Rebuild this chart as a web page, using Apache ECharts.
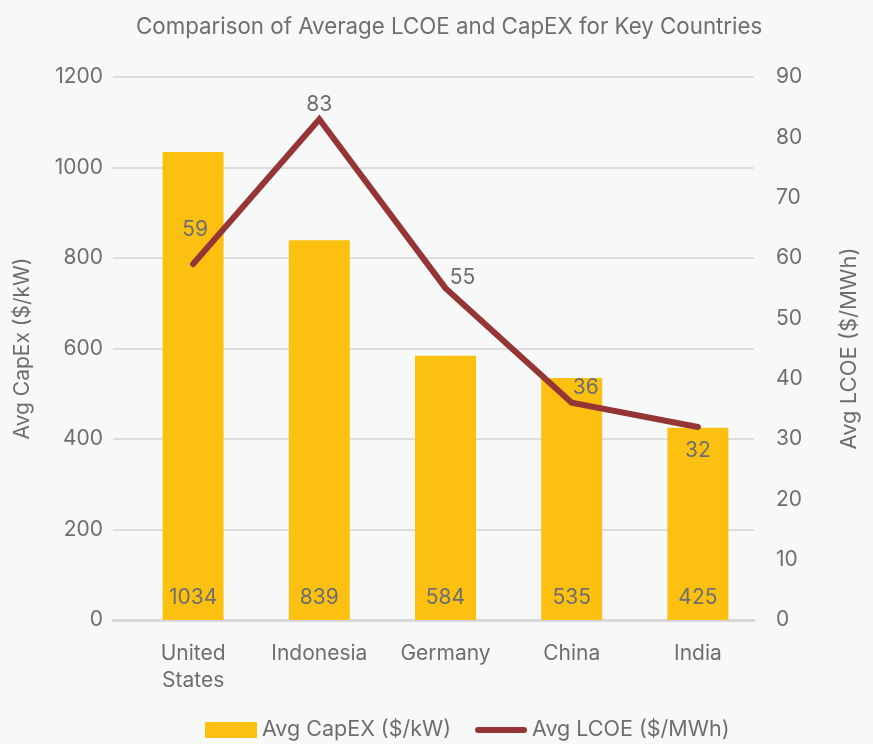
<!DOCTYPE html>
<html><head><meta charset="utf-8">
<script src="https://cdn.jsdelivr.net/npm/echarts@6/dist/echarts.min.js"></script>
<style>html,body{margin:0;padding:0;background:#f7f8f8}#c{width:873px;height:744px}</style>
</head><body><div id="c"></div>
<script>
const categories = ['United\nStates', 'Indonesia', 'Germany', 'China', 'India'];
const capex = [1034, 839, 584, 535, 425];
const lcoe = [59, 83, 55, 36, 32];
const leftTicks = {min: 0, max: 1200, interval: 200};
const rightTicks = {min: 0, max: 90, interval: 10};

const txt = '#6e6e70';
const font = 'Inter';
const lcoeLabelPos = [
  {position: 'top', offset: [2, -16]},
  {position: 'top', offset: [0, 4]},
  {position: 'top', offset: [17, 8]},
  {position: 'top', offset: [14, 3]},
  {position: 'bottom', offset: [0, 5]}
];

const chart = echarts.init(document.getElementById('c'));
chart.setOption({
  backgroundColor: '#f7f8f8',
  textStyle: {fontFamily: font},
  title: {text: 'Comparison of Average LCOE and CapEX for Key Countries', left: 131, top: 11,
    textStyle: {color: txt, fontSize: 22.3, fontWeight: 'normal', fontFamily: font}},
  legend: {top: 714, left: 200, itemWidth: 52, itemHeight: 16, itemGap: 24,
    textStyle: {color: txt, fontSize: 21.5, fontFamily: font},
    data: [{name: 'Avg CapEX ($/kW)', icon: 'rect'},
           {name: 'Avg LCOE ($/MWh)', icon: 'path://M0,0 L0.01,0 L0,0.01 Z M0,16 L0.01,16 L0,16.01 Z M3,5 L49,5 Q52,5 52,8 Q52,11 49,11 L3,11 Q0,11 0,8 Q0,5 3,5 Z'}]},
  grid: [
    {left: 113, right: 119, top: 77, bottom: 124},
    {left: 130, right: 112, top: 77, bottom: 124}
  ],
  xAxis: [
    {type: 'category', gridIndex: 0, data: categories, axisLabel: {show: false}, axisTick: {show: false},
      axisLine: {show: true, lineStyle: {color: '#d8d8dc', width: 3}}},
    {type: 'category', gridIndex: 1, data: categories, axisTick: {show: false}, axisLine: {show: false},
      axisLabel: {color: txt, fontSize: 21, margin: 20, lineHeight: 27, fontFamily: font, interval: 0}}
  ],
  yAxis: [
    {type: 'value', gridIndex: 0, min: leftTicks.min, max: leftTicks.max, interval: leftTicks.interval,
      name: 'Avg CapEx ($/kW)', nameLocation: 'middle', nameGap: 80, nameRotate: 90,
      nameTextStyle: {color: txt, fontSize: 21, fontFamily: font},
      axisLabel: {color: txt, fontSize: 21, margin: 10, fontFamily: font, formatter: v => String(v)},
      axisLine: {show: false}, axisTick: {show: false},
      splitLine: {lineStyle: {color: '#dddddf', width: 2}}},
    {type: 'value', gridIndex: 0, position: 'right', min: rightTicks.min, max: rightTicks.max, interval: rightTicks.interval,
      name: 'Avg LCOE ($/MWh)', nameLocation: 'middle', nameGap: 84, nameRotate: 90,
      nameTextStyle: {color: txt, fontSize: 22, fontFamily: font},
      axisLabel: {color: txt, fontSize: 21, margin: 22, fontFamily: font},
      axisLine: {show: false}, axisTick: {show: false}, splitLine: {show: false}},
    {type: 'value', gridIndex: 1, min: leftTicks.min, max: leftTicks.max, show: false},
    {type: 'value', gridIndex: 1, min: rightTicks.min, max: rightTicks.max, show: false}
  ],
  series: [
    {name: 'Avg CapEX ($/kW)', type: 'bar', xAxisIndex: 1, yAxisIndex: 2, data: capex, barWidth: 61,
      itemStyle: {color: '#fcc010'},
      label: {show: true, position: 'insideBottom', distance: 12, color: txt, fontSize: 21, fontFamily: font}},
    {name: 'Avg LCOE ($/MWh)', type: 'line', xAxisIndex: 1, yAxisIndex: 3, symbol: 'circle', symbolSize: 0.01,
      showSymbol: true,
      lineStyle: {color: '#953535', width: 6, cap: 'round', join: 'miter'}, itemStyle: {color: '#953535'},
      data: lcoe.map((v, i) => ({value: v, label: Object.assign({show: true, color: txt, fontSize: 21, fontFamily: font, distance: 8}, lcoeLabelPos[i])})),
      label: {show: true}}
  ]
});
</script></body></html>
